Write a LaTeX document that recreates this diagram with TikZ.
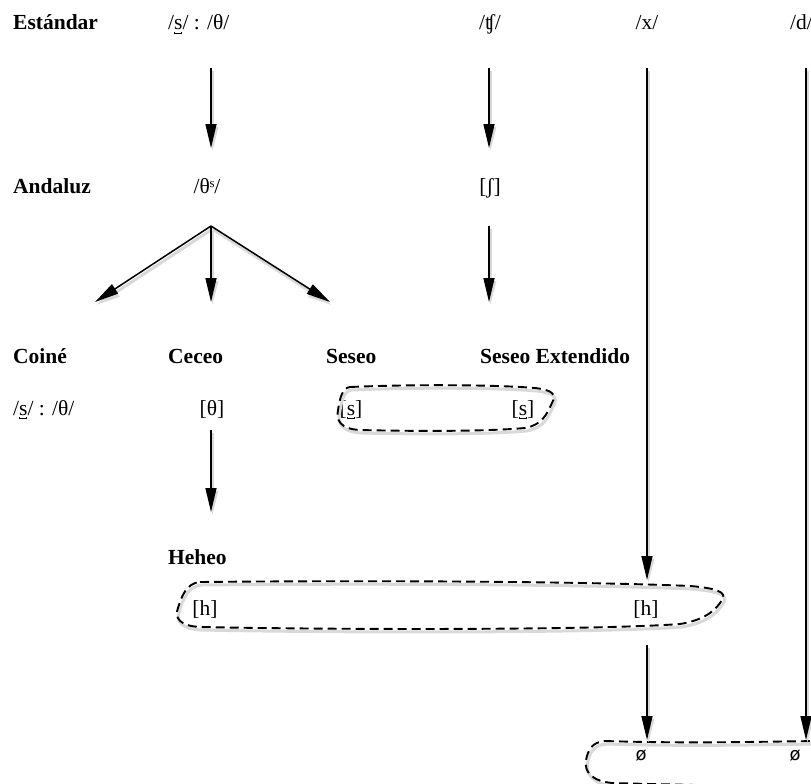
\documentclass[tikz,border=0pt]{standalone}
\usepackage{fontspec}
\setmainfont{Liberation Serif}
\newfontfamily\symfont{DejaVu Sans}
\usetikzlibrary{arrows.meta}
\newcommand\apicals{\leavevmode\ooalign{s\cr\hidewidth\rule[-0.2em]{0.045em}{0.11em}\rule[-0.2em]{0.28em}{0.045em}\rule[-0.2em]{0.045em}{0.11em}\hidewidth\cr}}
\begin{document}
\begin{tikzpicture}[x=1pt,y=-1pt,
  lbl/.style={font=\fontsize{21.5}{24}\selectfont\bfseries, anchor=base west, inner sep=0pt},
  ph/.style={font=\fontsize{21.5}{24}\selectfont, anchor=base, inner sep=0pt},
  nul/.style={font=\symfont\fontsize{18}{20}\selectfont, inner sep=0pt},
  shd/.style={preaction={draw, black!15, line width=3pt, transform canvas={shift={(1.5pt,-3pt)}}}},
  arr/.style={line width=1.5pt, -{Triangle[length=24pt,width=11pt]}, shd},
  blob/.style={line width=1.9pt, dash pattern=on 9pt off 5pt, shd}]
\useasboundingbox (0,0) rectangle (811,784);
\clip (0,0) rectangle (811,784);
% labels
\node[lbl] (std) at (13,30) {Estándar};
\node[ph, anchor=base west] (std1) at (168,30) {/\apicals/ : /θ/};
\node[ph] (std2) at (490,30) {/ʧ/};
\node[ph] (std3) at (647,30) {/x/};
\node[ph, anchor=base west] (std4) at (790,30) {/d/};
\node[lbl] (and) at (13,193) {Andaluz};
\node[ph] (and1) at (207,193) {/θˢ/};
\node[ph] (and2) at (490,193) {[ʃ]};
\node[lbl] (coi) at (13,363) {Coiné};
\node[lbl] (cec) at (168,363) {Ceceo};
\node[lbl] (ses) at (326,363) {Seseo};
\node[lbl] (sex) at (480,363) {Seseo Extendido};
\node[ph, anchor=base west] (coi1) at (13,415) {/\apicals/ : /θ/};
\node[ph] (cec1) at (212,415) {[θ]};
\node[ph] (ses1) at (351,415) {[\apicals]};
\node[ph] (sex1) at (523,415) {[\apicals]};
\node[lbl] (heh) at (168,564) {Heheo};
\node[ph] (h1) at (205,615) {[h]};
\node[ph] (h2) at (646,615) {[h]};
\node[nul] (z1) at (641,756) {ø};
\node[nul] (z2) at (795,756) {ø};
% connector end points
\coordinate (a1s) at (211,68);  \coordinate (a1e) at (211,148);
\coordinate (a2s) at (489,68);  \coordinate (a2e) at (489,148);
\coordinate (a3s) at (647,68);  \coordinate (a3e) at (647,580);
\coordinate (a4s) at (806,68);  \coordinate (a4e) at (806,740);
\coordinate (br)  at (211,226);
\coordinate (b1)  at (95,302);  \coordinate (b2) at (211,302); \coordinate (b3) at (330,302);
\coordinate (a5s) at (489,226); \coordinate (a5e) at (489,302);
\coordinate (a6s) at (211,430); \coordinate (a6e) at (211,512);
\coordinate (a7s) at (647,645); \coordinate (a7e) at (647,740);
% dashed groupings
\draw[blob] (350,387) .. controls (420,384) and (500,385) .. (535,388)
  .. controls (552,390) and (557,394) .. (552,403)
  .. controls (547,414) and (542,425) .. (525,428)
  .. controls (480,432) and (400,431) .. (360,430)
  .. controls (340,429) and (336,420) .. (338,410)
  .. controls (340,398) and (342,388) .. (350,387) -- cycle;
\draw[blob] (200,582) .. controls (400,580) and (600,582) .. (690,586)
  .. controls (715,588) and (728,592) .. (722,600)
  .. controls (716,610) and (705,620) .. (680,624)
  .. controls (600,630) and (350,630) .. (200,627)
  .. controls (180,626) and (174,618) .. (178,608)
  .. controls (181,598) and (186,583) .. (200,582) -- cycle;
\draw[blob] (605,741) .. controls (700,744) and (780,741) .. (830,741)
  -- (830,790)
  .. controls (780,786) and (680,785) .. (612,783)
  .. controls (592,781) and (584,772) .. (586,760)
  .. controls (588,750) and (592,742) .. (605,741) -- cycle;
% arrows
\draw[arr] (a1s) -- (a1e);
\draw[arr] (a2s) -- (a2e);
\draw[arr] (a3s) -- (a3e);
\draw[arr] (a4s) -- (a4e);
\draw[arr] (br) -- (b1);
\draw[arr] (br) -- (b2);
\draw[arr] (br) -- (b3);
\draw[arr] (a5s) -- (a5e);
\draw[arr] (a6s) -- (a6e);
\draw[arr] (a7s) -- (a7e);
\end{tikzpicture}
\end{document}
